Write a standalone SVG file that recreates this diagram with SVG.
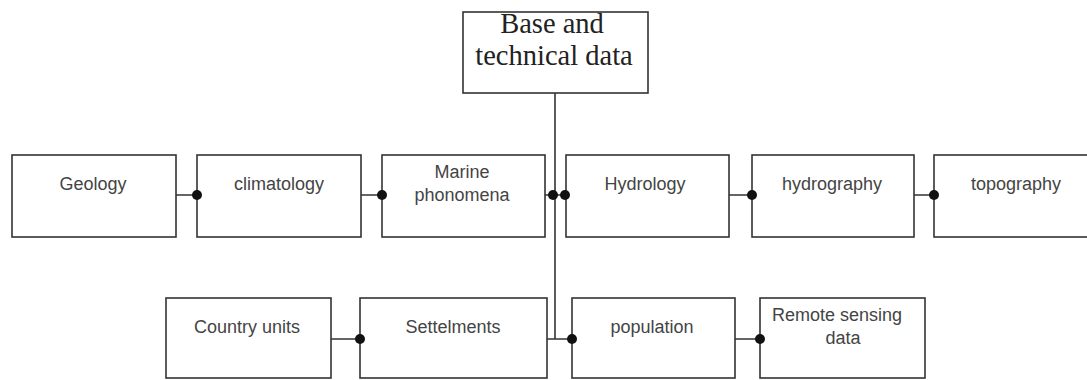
<svg xmlns="http://www.w3.org/2000/svg" width="1087" height="380" viewBox="0 0 1087 380">
<style>
.box{fill:#fff;stroke:#333;stroke-width:1.6}
.t{font-family:"Liberation Sans",Arial,sans-serif;font-size:18px;fill:#444;text-anchor:middle}
.s{font-family:"Liberation Serif","Times New Roman",serif;font-size:28.5px;fill:#222;text-anchor:middle}
.c{fill:none;stroke:#333;stroke-width:1.6}
.d{fill:#111}
</style>
<rect width="1087" height="380" fill="#fff"/>
<g id="base"><rect class="box" x="463" y="12" width="185" height="81"/><text class="s" x="552" y="33">Base and</text><text class="s" x="554" y="65">technical data</text></g>
<g id="geology"><rect class="box" x="12" y="155" width="164" height="82"/><text class="t" x="93" y="190">Geology</text></g>
<g id="climatology"><rect class="box" x="197" y="155" width="164" height="82"/><text class="t" x="279" y="190">climatology</text></g>
<g id="marine"><rect class="box" x="382" y="155" width="163" height="82"/><text class="t" x="462" y="178">Marine</text><text class="t" x="462" y="201">phonomena</text></g>
<g id="hydrology"><rect class="box" x="566" y="155" width="163" height="82"/><text class="t" x="645" y="190">Hydrology</text></g>
<g id="hydrography"><rect class="box" x="752" y="155" width="162" height="82"/><text class="t" x="832" y="190">hydrography</text></g>
<g id="topography"><rect class="box" x="934" y="155" width="163" height="82"/><text class="t" x="1016" y="190">topography</text></g>
<g id="country"><rect class="box" x="166" y="298" width="165" height="80"/><text class="t" x="247" y="333">Country units</text></g>
<g id="settlements"><rect class="box" x="360" y="298" width="187" height="80"/><text class="t" x="453" y="333">Settelments</text></g>
<g id="population"><rect class="box" x="572" y="298" width="163" height="80"/><text class="t" x="652" y="333">population</text></g>
<g id="remote"><rect class="box" x="760" y="298" width="165" height="80"/><text class="t" x="837" y="321">Remote sensing</text><text class="t" x="843" y="344">data</text></g>
<g id="connectors">
<path class="c" d="M555 93V339"/>
<path class="c" d="M176 195H197M361 195H382M545 195H566M729 195H752M914 195H934"/>
<path class="c" d="M331 339H360M547 339H572M735 339H760"/>
<circle class="d" cx="197" cy="195" r="5"/>
<circle class="d" cx="382" cy="195" r="5"/>
<circle class="d" cx="553" cy="195" r="5"/>
<circle class="d" cx="565" cy="195" r="5"/>
<circle class="d" cx="752" cy="195" r="5"/>
<circle class="d" cx="934" cy="195" r="5"/>
<circle class="d" cx="360" cy="339" r="5"/>
<circle class="d" cx="572" cy="339" r="5"/>
<circle class="d" cx="760" cy="339" r="5"/>
</g>
</svg>
